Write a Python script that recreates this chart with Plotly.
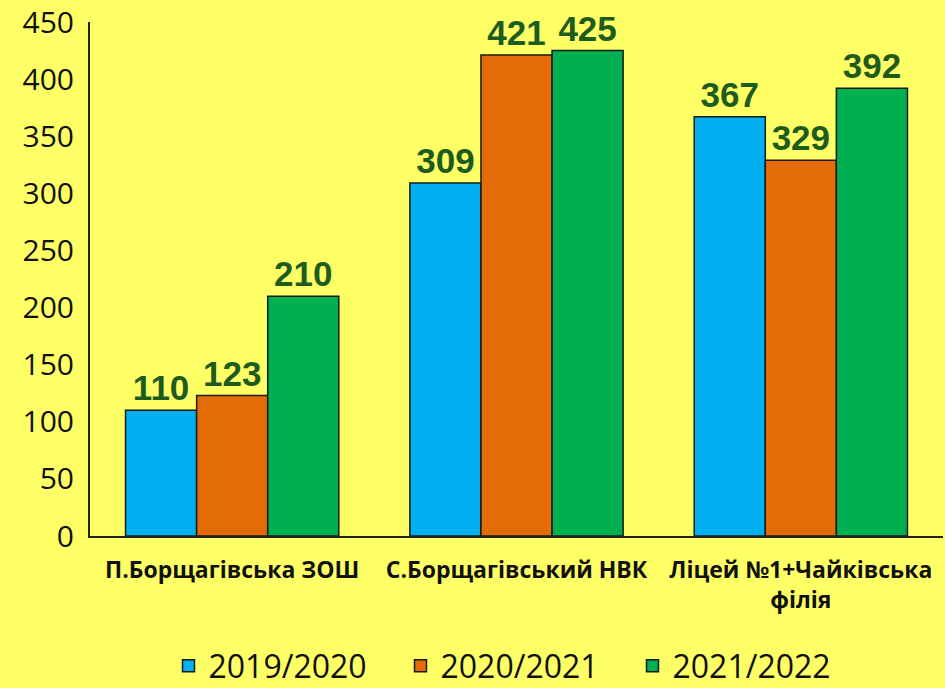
import plotly.graph_objects as go

categories = ["П.Борщагівська ЗОШ", "С.Борщагівський НВК", "Ліцей №1+Чайківська<br>філія"]
series_names = ["2019/2020", "2020/2021", "2021/2022"]
v2019 = [110, 309, 367]
v2020 = [123, 421, 329]
v2021 = [210, 425, 392]
colors = ["#00B0F0", "#E36C09", "#00B050"]

fig = go.Figure()
for name, vals, c in zip(series_names, [v2019, v2020, v2021], colors):
    fig.add_trace(go.Bar(
        x=categories, y=vals, name=name,
        marker=dict(color=c, line=dict(color="#1a1a1a", width=1.5)),
        text=[str(v) for v in vals], textposition="outside",
        textfont=dict(family="Liberation Sans", size=35, color="#1E5C1E", weight="bold"),
        cliponaxis=False,
    ))

fig.update_layout(
    width=945, height=688,
    paper_bgcolor="#FFFF66", plot_bgcolor="#FFFF66",
    barmode="group", bargap=0.25, bargroupgap=0,
    margin=dict(l=90, r=2, t=22, b=152, autoexpand=False),
    font=dict(family="Open Sans", color="#111111"),
    legend=dict(orientation="h", x=0.5, xanchor="center", y=-0.253, yanchor="middle",
                font=dict(size=32, family="Open Sans"), traceorder="normal",
                itemwidth=30, entrywidth=187, entrywidthmode="pixels"),
)
fig.update_yaxes(range=[0, 450], tickvals=list(range(0, 451, 50)), showgrid=False,
                 showline=True, linecolor="#222222", linewidth=2, zeroline=False,
                 tickfont=dict(size=30, family="Open Sans"), ticks="", ticklen=0,
                 automargin=False, ticklabelstandoff=8)
fig.update_xaxes(showline=True, linecolor="#222222", linewidth=2, showgrid=False,
                 tickfont=dict(size=23, family="Open Sans", weight="bold"), ticks="",
                 tickangle=0, automargin=False, ticklabelstandoff=12)
fig.write_html("out.html", config={"displayModeBar": False},
               post_script="document.body.style.margin='0';document.body.style.background='#FFFF66';")
